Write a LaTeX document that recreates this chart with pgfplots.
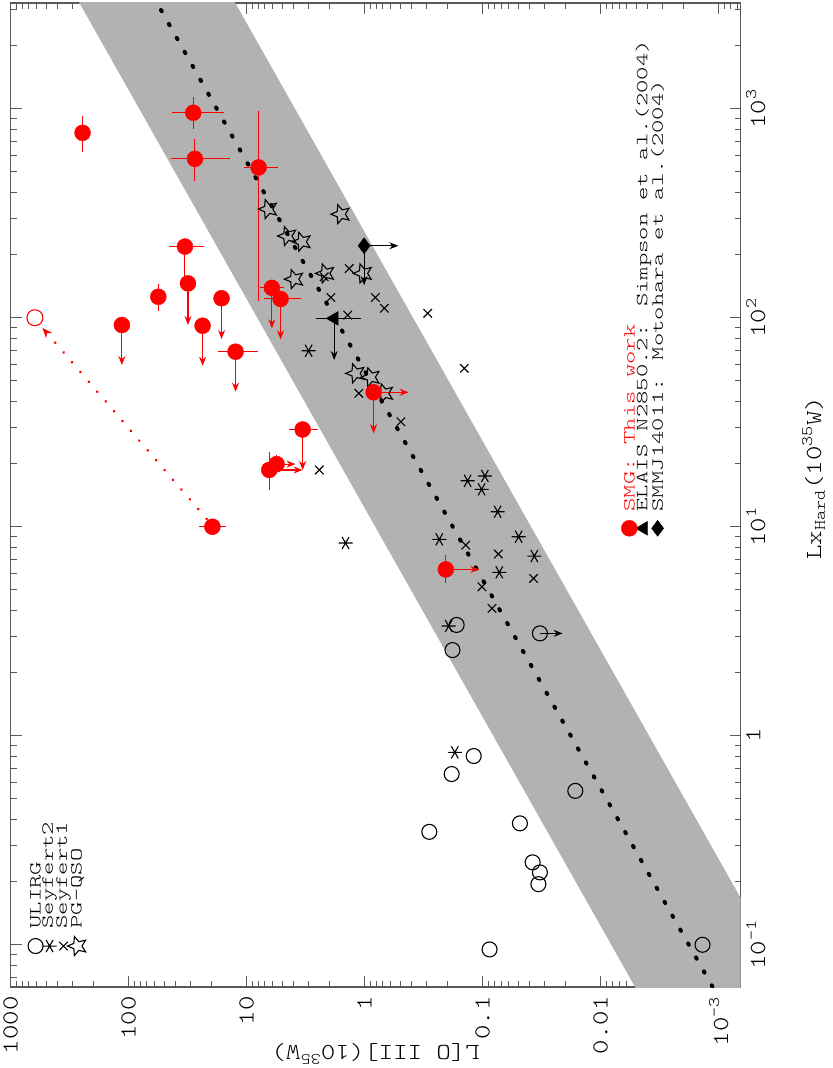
\documentclass[border=0pt]{standalone}
\usepackage{fontspec}
\usepackage{pgfplots}
\pgfplotsset{compat=1.18}
\usetikzlibrary{arrows.meta}
\newfontfamily\pg{lmmonolt10-regular}[Extension=.otf, FakeStretch=1.2]
\newfontfamily\pgw{lmmonolt10-regular}[Extension=.otf, FakeStretch=1.5]
\newcommand\tickfont{\pg\fontsize{23}{27}\selectfont}
\newcommand\legfont{\pgw\fontsize{17}{20}\selectfont}
\definecolor{band}{RGB}{178,178,178}
\definecolor{axgray}{RGB}{90,90,90}
\pgfdeclareplotmark{ostar}{%
  \pgfpathmoveto{\pgfpointpolar{180}{\pgfplotmarksize}}%
  \pgfpathlineto{\pgfpointpolar{216}{0.45\pgfplotmarksize}}%
  \pgfpathlineto{\pgfpointpolar{252}{\pgfplotmarksize}}%
  \pgfpathlineto{\pgfpointpolar{288}{0.45\pgfplotmarksize}}%
  \pgfpathlineto{\pgfpointpolar{324}{\pgfplotmarksize}}%
  \pgfpathlineto{\pgfpointpolar{0}{0.45\pgfplotmarksize}}%
  \pgfpathlineto{\pgfpointpolar{36}{\pgfplotmarksize}}%
  \pgfpathlineto{\pgfpointpolar{72}{0.45\pgfplotmarksize}}%
  \pgfpathlineto{\pgfpointpolar{108}{\pgfplotmarksize}}%
  \pgfpathlineto{\pgfpointpolar{144}{0.45\pgfplotmarksize}}%
  \pgfpathclose\pgfusepathqstroke}
\begin{document}
\begin{tikzpicture}
\begin{axis}[name=ax, scale only axis, width=730bp, height=984bp,
  xmode=log, ymode=log, x dir=reverse,
  xmin=6.52e-4, xmax=1000, ymin=0.0628, ymax=3206,
  xtick={0.001,0.01,0.1,1,10,100,1000},
  xticklabels={10\textsuperscript{-3},0.01,0.1,1,10,100,1000},
  minor xtick={0.0007,0.0008,0.0009,0.002,0.003,0.004,0.005,0.006,0.007,0.008,0.009,0.02,0.03,0.04,0.05,0.06,0.07,0.08,0.09,0.2,0.3,0.4,0.5,0.6,0.7,0.8,0.9,2,3,4,5,6,7,8,9,20,30,40,50,60,70,80,90,200,300,400,500,600,700,800,900},
  ytick={0.1,1,10,100,1000},
  yticklabels={10\textsuperscript{-1},1,10\textsuperscript{1},10\textsuperscript{2},10\textsuperscript{3}},
  minor ytick={0.07,0.08,0.09,0.2,0.3,0.4,0.5,0.6,0.7,0.8,0.9,2,3,4,5,6,7,8,9,20,30,40,50,60,70,80,90,200,300,400,500,600,700,800,900,2000,3000},
  yticklabel pos=right,
  xtick pos=both, ytick pos=both,
  tick align=inside,
  major tick length=11bp, minor tick length=6bp,
  tick style={axgray, line width=0.8bp},
  axis line style={axgray, line width=1.2bp},
  xticklabel style={font=\tickfont, rotate=90, anchor=east},
  yticklabel style={font=\tickfont, rotate=90, anchor=north},
  xticklabel shift=6bp, yticklabel shift=2bp,
  xlabel={L[O III](10\textsuperscript{35}W)},
  xlabel style={font=\tickfont, rotate=180, anchor=center, at={(axis description cs:0.5,-0.068)}},
  ylabel={Lx\textsubscript{Hard}(10\textsuperscript{35}W)},
  ylabel style={font=\tickfont, rotate=0, anchor=center, at={(axis description cs:1.1,0.517)}},
]
% band
\addplot[draw=none, fill=band] coordinates {(8.13e-4,0.01) (812.8,10000) (38.9,10000) (3.89e-5,0.01)};
% fit line
\addplot[black, line width=4bp, line cap=round, dash pattern=on 1.5bp off 14.5bp] coordinates {(1.79e-4,0.01) (179,10000)};

% ULIRG
\addplot[only marks, mark=o, mark size=7.5bp, black, mark options={line width=1.1bp}] coordinates {
(0.166,3.39) (0.180,2.57) (0.119,0.800) (0.183,0.656) (0.0164,0.545) (0.283,0.347) (0.0483,0.381) (0.0377,0.248) (0.0327,0.222) (0.0337,0.195) (0.0873,0.095) (1.37e-3,0.1) (0.0327,3.09)
(614,0.0986)};
% Seyfert2
\addplot[only marks, mark=asterisk, mark size=7bp, black, mark options={rotate=90, line width=1.1bp}] coordinates {
(2.98,69.5) (0.134,16.6) (0.0957,17.5) (0.102,15.1) (0.0746,11.8) (0.233,8.70) (0.0495,8.96) (0.0365,7.24) (0.0722,6.05) (0.194,3.35) (0.172,0.833) (1.45,8.36)
(467,0.0986)};
% Seyfert1
\addplot[only marks, mark=x, mark size=6bp, black, mark options={line width=1.1bp}] coordinates {
(2.42,18.7) (1.35,172) (2.20,157) (1.93,125) (0.811,125) (0.681,111) (0.292,105) (1.39,103) (1.12,43.5) (0.492,31.8) (0.143,57.3) (0.139,8.17) (0.0736,7.40) (0.0370,5.66) (0.1014,5.16) (0.0834,4.07)
(356,0.0986)};
% PG-QSO
\addplot[only marks, mark=ostar, mark size=10bp, black, mark options={line width=1.1bp}] coordinates {
(6.55,331) (1.59,313) (4.50,246) (3.40,231) (3.94,153) (2.15,163) (1.03,163) (1.19,54.2) (0.885,51.9) (0.681,43.5)
(271,0.0986)};

% black arrows
\addplot[black, line width=1.1bp, -{Stealth[length=9bp,width=7bp]}] coordinates {(1.01,221) (0.518,221)};
\addplot[black, line width=1.1bp, -{Stealth[length=9bp,width=7bp]}] coordinates {(1.01,221) (1.01,143)};
\addplot[black, line width=1.1bp, -{Stealth[length=9bp,width=7bp]}] coordinates {(1.81,99.3) (1.81,62.8)};
\addplot[black, line width=1.1bp, -{Stealth[length=9bp,width=7bp]}] coordinates {(0.0327,3.09) (0.0210,3.09)};
% ELAIS triangle
\addplot[only marks, mark=triangle*, mark size=8bp, black, mark options={rotate=90},
  error bars/.cd, x dir=both, x explicit, error bar style={black, line width=1bp}, error mark options={black, mark size=5bp, line width=1bp}]
  coordinates {(1.81,99.3) += (0.53,0) -= (0.62,0)};
\addplot[only marks, mark=triangle*, mark size=8bp, black, mark options={rotate=90}] coordinates {(4.33e-3,9.83)};
% SMMJ diamond
\addplot[only marks, mark=diamond*, mark size=8bp, black] coordinates {(1.01,221) (3.29e-3,9.83)};

% red dotted arrow
\addplot[red, line width=3bp, line cap=round, dash pattern=on 0.01bp off 12.9bp, -{Stealth[length=10bp,width=8bp,line width=0.5bp]}] coordinates {(21.8,10.9) (535,89.3)};
% red upper-limit arrows
\addplot[red, line width=1.1bp, -{Stealth[length=9bp,width=7bp]}] coordinates {(6.11,139) (6.11,89)};
\addplot[red, line width=1.1bp, -{Stealth[length=9bp,width=7bp]}] coordinates {(5.15,123) (5.15,78.8)};
\addplot[red, line width=1.1bp, -{Stealth[length=9bp,width=7bp]}] coordinates {(33.3,219) (33.3,140)};
\addplot[red, line width=1.1bp, -{Stealth[length=9bp,width=7bp]}] coordinates {(31.4,146) (31.4,92.3)};
\addplot[red, line width=1.1bp, -{Stealth[length=9bp,width=7bp]}] coordinates {(16.3,124) (16.3,79.1)};
\addplot[red, line width=1.1bp, -{Stealth[length=9bp,width=7bp]}] coordinates {(114,92.3) (114,59.4)};
\addplot[red, line width=1.1bp, -{Stealth[length=9bp,width=7bp]}] coordinates {(23.6,91.6) (23.6,58.9)};
\addplot[red, line width=1.1bp, -{Stealth[length=9bp,width=7bp]}] coordinates {(12.4,68.8) (12.4,44.3)};
\addplot[red, line width=1.1bp, -{Stealth[length=9bp,width=7bp]}] coordinates {(3.35,29.2) (3.35,18.7)};
\addplot[red, line width=1.1bp, -{Stealth[length=9bp,width=7bp]}] coordinates {(5.57,19.95) (3.85,19.95)};
\addplot[red, line width=1.1bp, -{Stealth[length=9bp,width=7bp]}] coordinates {(6.43,18.7) (3.35,18.7)};
\addplot[red, line width=1.1bp, -{Stealth[length=9bp,width=7bp]}] coordinates {(0.839,44.0) (0.424,44.0)};
\addplot[red, line width=1.1bp, -{Stealth[length=9bp,width=7bp]}] coordinates {(0.839,44.0) (0.839,28.0)};
\addplot[red, line width=1.1bp, -{Stealth[length=9bp,width=7bp]}] coordinates {(0.205,6.25) (0.1067,6.25)};

% SMG points
\addplot[only marks, mark=*, mark size=8bp, red, mark options={draw=red, fill=red},
  error bars/.cd, x dir=both, x explicit, y dir=both, y explicit,
  error bar style={red, line width=1bp}, error mark options={red, mark size=5bp, line width=1bp}]
  coordinates {
(245.4,767) += (0,110) -= (0,109)
(28.3,957) += (10.9,116) -= (11.3,115)
(27.4,576) += (12.3,100) -= (12.2,98)
(7.91,524) += (1.71,402) -= (1.88,397)
(6.11,139) += (0.84,0) -= (0.83,0)
(5.15,123) += (1.28,0) -= (1.33,0)
(33.3,219) += (7.7,0) -= (7.8,0)
(31.4,146) += (0,0) -= (0,0)
(56.0,126) += (0,11) -= (0,12)
(16.3,124) += (0,0) -= (0,0)
(114,92.3) += (0,0) -= (0,0)
(23.6,91.6) += (0,0) -= (0,0)
(12.4,68.8) += (3.6,0) -= (3.6,0)
(3.35,29.2) += (0.59,0) -= (0.63,0)
(5.57,19.95) += (1.0,1.0) -= (0.9,1.0)
(6.43,18.7) += (0,2.9) -= (0,2.9)
(19.5,10) += (3.5,0) -= (3.0,0)
(0.839,44.0) += (0,0) -= (0,0)
(0.205,6.25) += (0,0.68) -= (0,0.59)
(5.71e-3,9.83) += (0,0) -= (0,0)
};
% red open circle
\addplot[only marks, mark=o, mark size=8bp, red, mark options={line width=1.1bp}] coordinates {(622,100)};

% legend texts
\node[rotate=90, anchor=west, font=\legfont] at (axis cs:614,0.115) {ULIRG};
\node[rotate=90, anchor=west, font=\legfont] at (axis cs:467,0.115) {Seyfert2};
\node[rotate=90, anchor=west, font=\legfont] at (axis cs:356,0.115) {Seyfert1};
\node[rotate=90, anchor=west, font=\legfont] at (axis cs:271,0.115) {PG-QSO};
\node[rotate=90, anchor=west, font=\legfont, red] at (axis cs:5.71e-3,11.4) {SMG: This work};
\node[rotate=90, anchor=west, font=\legfont] at (axis cs:4.33e-3,11.4) {ELAIS N2850.2: Simpson et al.(2004)};
\node[rotate=90, anchor=west, font=\legfont] at (axis cs:3.29e-3,11.4) {SMMJ14011: Motohara et al.(2004)};
\end{axis}
\path ([xshift=-8bp,yshift=-81bp]ax.south west) rectangle ([xshift=92bp,yshift=3bp]ax.north east);
\end{tikzpicture}
\end{document}
